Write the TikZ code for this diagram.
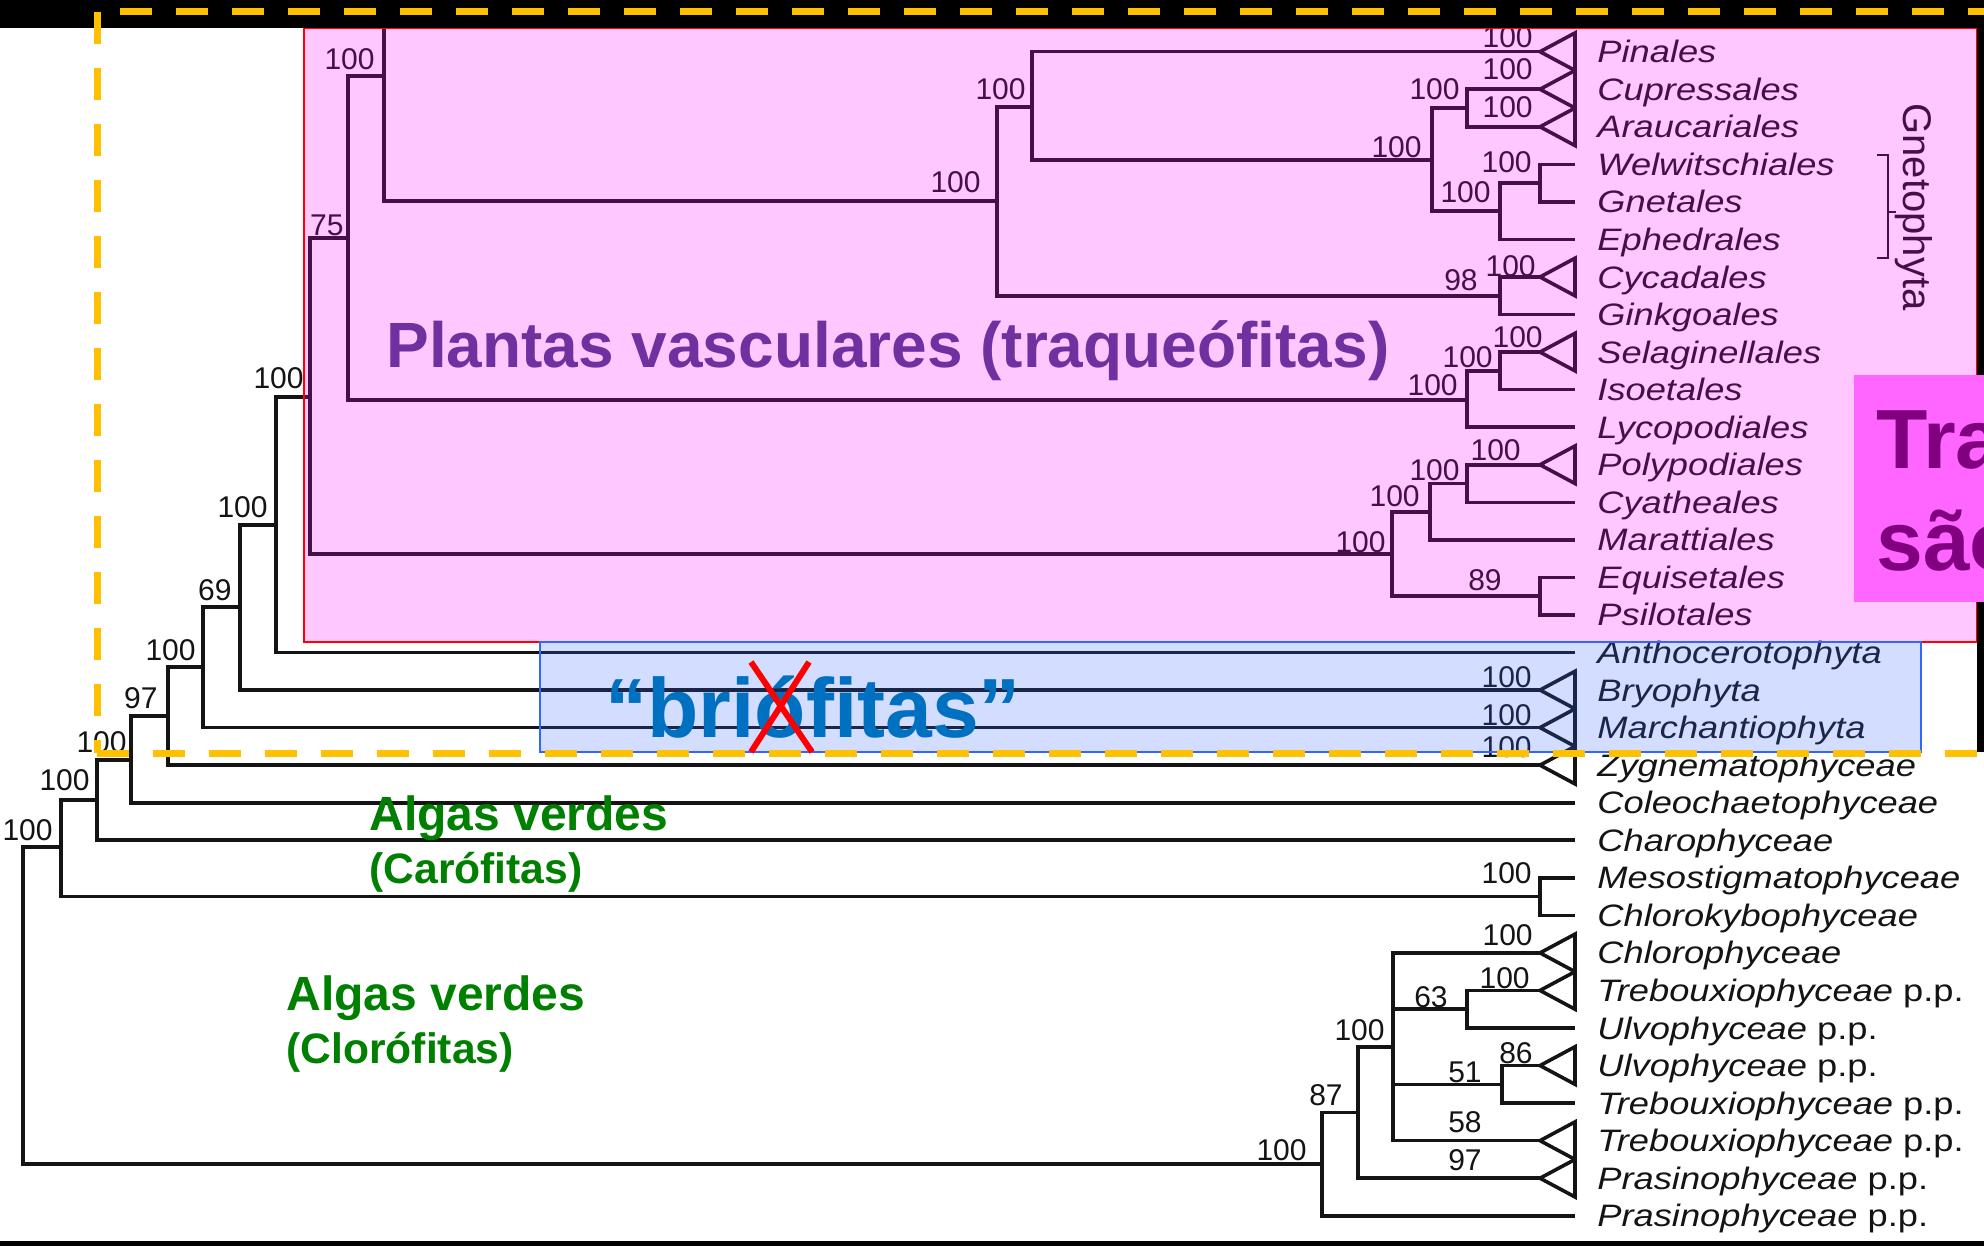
\documentclass[tikz,border=0pt]{standalone}
\usepackage{fontspec}
\setmainfont{Liberation Sans}
\setsansfont{Liberation Sans}
\newfontfamily\leaffont[FakeStretch=1.17]{Liberation Sans}
\definecolor{pinkov}{RGB}{255,0,255}
\definecolor{blueov}{RGB}{51,102,255}
\definecolor{plantpurple}{RGB}{112,48,160}
\definecolor{bryoblue}{RGB}{0,112,192}
\definecolor{algagreen}{RGB}{0,128,0}
\definecolor{yel}{RGB}{255,192,0}
\definecolor{magbox}{RGB}{255,102,255}
\definecolor{magtext}{RGB}{128,0,128}
\definecolor{treeink}{RGB}{20,20,20}
\begin{document}
\begin{tikzpicture}[x=0.5pt,y=-0.5pt,
  br/.style={line width=1.8pt, draw=treeink, line join=miter},
  leaf/.style={anchor=base west, inner sep=0pt, text=treeink, font=\leaffont\fontsize{15.5}{16}\selectfont\itshape},
  bs/.style={anchor=base east, inner sep=0pt, text=treeink, font=\fontsize{15}{15}\selectfont},
  yd/.style={draw=yel, line width=3.5pt, dash pattern=on 16pt off 12pt},
  bigtxt/.style={anchor=base west, inner sep=0pt, font=\bfseries\fontsize{32}{32}\selectfont},
  grtxt/.style={anchor=base west, inner sep=0pt, text=algagreen, font=\bfseries\fontsize{24}{24}\selectfont},
  grsub/.style={anchor=base west, inner sep=0pt, text=algagreen, font=\bfseries\fontsize{21.3}{21.3}\selectfont}
]
\useasboundingbox (0,0) rectangle (1984,1246);
\fill[white] (0,0) rectangle (1984,1246);

% ---------- leaves ----------
\foreach \i/\tri/\lab in {
  1/1/Pinales, 2/1/Cupressales, 3/1/Araucariales, 4/0/Welwitschiales,
  5/0/Gnetales, 6/0/Ephedrales, 7/1/Cycadales, 8/0/Ginkgoales,
  9/1/Selaginellales, 10/0/Isoetales, 11/0/Lycopodiales, 12/1/Polypodiales,
  13/0/Cyatheales, 14/0/Marattiales, 15/0/Equisetales, 16/0/Psilotales,
  17/0/Anthocerotophyta, 18/1/Bryophyta, 19/1/Marchantiophyta, 20/1/Zygnematophyceae,
  21/0/Coleochaetophyceae, 22/0/Charophyceae, 23/0/Mesostigmatophyceae, 24/0/Chlorokybophyceae,
  25/1/Chlorophyceae, 26/1/{Trebouxiophyceae \textup{p.p.}}, 27/0/{Ulvophyceae \textup{p.p.}},
  28/1/{Ulvophyceae \textup{p.p.}}, 29/0/{Trebouxiophyceae \textup{p.p.}},
  30/1/{Trebouxiophyceae \textup{p.p.}}, 31/1/{Prasinophyceae \textup{p.p.}},
  32/0/{Prasinophyceae \textup{p.p.}}} {
  \pgfmathsetmacro\yy{51.7+(\i-1)*37.55}
  \ifnum\tri=1
    \coordinate (t\i) at (1540,\yy);
  \else
    \coordinate (t\i) at (1575,\yy);
  \fi
  \node[leaf] (lab\i) at (1597,\yy+11) {\lab};
}

% ---------- internal nodes ----------
\coordinate (X) at (23,1005);
\coordinate (W) at (61,847);
\coordinate (V) at (97,800);
\coordinate (U) at (131,760);
\coordinate (T) at (168,716);
\coordinate (S) at (203,667);
\coordinate (R) at (240,607);
\coordinate (Q) at (276,525);
\coordinate (P) at (310,397);
\coordinate (O) at (348,238);
\coordinate (N) at (384,76);
\coordinate (angtop) at (384,0);
\coordinate (A) at (997,201);
\coordinate (B) at (1032,107);
\coordinate (C) at (1432,160);
\coordinate (D) at (1467,108);
\coordinate (E) at (1500,211);
\coordinate (F) at (1540,183);
\coordinate (G) at (1500,296);
\coordinate (I) at (1467,400);
\coordinate (H) at (1500,371);
\coordinate (L) at (1392,554);
\coordinate (K) at (1430,512);
\coordinate (J) at (1467,483.5);
\coordinate (M) at (1540,596);
\coordinate (DD) at (1540,896.6);
\coordinate (Y) at (1322,1164);
\coordinate (Z) at (1358,1112.6);
\coordinate (AA) at (1393,1047);
\coordinate (BB) at (1467,1009.2);
\coordinate (CC) at (1502,1084.3);

% ---------- branches ----------
\foreach \a/\b in {X/W, X/Y, W/V, W/DD, V/U, V/t22, U/T, U/t21, T/S, T/t20,
  S/R, S/t19, R/Q, R/t18, Q/P, Q/t17, P/O, P/L, O/N, O/I, N/A,
  A/B, A/G, B/t1, B/C, C/D, C/E, D/t2, D/t3, E/F, E/t6, F/t4, F/t5,
  G/t7, G/t8, I/H, I/t11, H/t9, H/t10, L/K, L/M, K/J, K/t14, J/t12, J/t13,
  M/t15, M/t16, DD/t23, DD/t24, Y/Z, Y/t32, Z/AA, Z/t31,
  AA/t25, AA/BB, AA/CC, AA/t30, BB/t26, BB/t27, CC/t28, CC/t29}
  \draw[br] (\a) |- (\b);
\draw[br] (N) -- (angtop);

% ---------- collapsed clades ----------
\foreach \i in {1,2,3,7,9,12,18,19,20,25,26,28,30,31}
  \draw[br] (t\i) -- ++(35,-18.78) -- ++(0,37.55) -- cycle;

% ---------- support values ----------
\foreach \n/\x/\y/\t in {
  sN/375/70/100, sO/344/235/75, sP/304/388/100, sQ/268/517/100, sR/232/600/69,
  sS/196/660/100, sT/158/708/97, sU/127/752/100, sV/90/790/100, sW/53/840/100,
  sA/981/193/100, sB/1026/100/100, sC/1422/158/100, sD/1460/100/100,
  s1/1533/48/100, s2/1533/80/100, s3/1533/118/100, sF/1532/173/100, sE/1491/203/100,
  sG/1478/290/98, s7/1536/277/100, s9/1543/347/100, sH/1493/367/100, sI/1458/395/100,
  s12/1521/460/100, sJ/1460/480/100, sK/1420/506/100, sL/1386/552/100, sM/1502/590/89,
  s18/1532/687/100, s19/1532/725/100, s20/1532/757/100, sDD/1532/883/100,
  s25/1533/945/100, s26/1530/988/100, sBB/1448/1007/63, sAA/1385/1040/100,
  s28/1533/1063/86, sCC/1482/1082/51, s30/1482/1132/58, s31/1482/1170/97,
  sZ/1343/1105/87, sY/1307/1160/100}
  \node[bs] (\n) at (\x,\y) {\t};

% ---------- Gnetophyta bracket ----------
\draw[line width=1.2pt, draw=treeink] (1877,155) -- (1888,155) -- (1888,258) -- (1877,258);
\draw[line width=1.2pt, draw=treeink] (1888,212) -- (1896,212);
\node[rotate=-90, inner sep=0pt, text=treeink, font=\fontsize{20}{20}\selectfont] (gneto) at (1914,207) {Gnetophyta};

% ---------- coloured overlays ----------
\fill[pinkov, fill opacity=0.22] (304,28) rectangle (1977,642);
\draw[red, line width=1pt] (304,28) rectangle (1977,642);
\fill[blueov, fill opacity=0.22] (540,642) rectangle (1921,752);
\draw[blueov, line width=0.8pt] (540,642) rectangle (1921,752);

% ---------- group labels ----------
\node[bigtxt, text=plantpurple] (trach) at (386,367) {Plantas vasculares (traqueófitas)};
\node[anchor=base west, inner sep=0pt, text=bryoblue, font=\bfseries\fontsize{42}{42}\selectfont] (bryo) at (605,737) {“briófitas”};
\draw[red, line width=3pt] (751,662) -- (812,752);
\draw[red, line width=3pt] (809,662) -- (751,752);
\node[grtxt] (charo1) at (369,830) {Algas verdes};
\node[grsub] (charo2) at (369,883) {(Carófitas)};
\node[grtxt] (chloro1) at (286,1010) {Algas verdes};
\node[grsub] (chloro2) at (286,1063) {(Clorófitas)};

% ---------- slide frame ----------
\fill[black] (0,0) rectangle (1984,28);
\fill[black] (1977,0) rectangle (1984,752);
\fill[black] (0,1241) rectangle (1984,1246);

% ---------- magenta call-out ----------
\fill[magbox] (1854,375) rectangle (1984,602);
\begin{scope}
  \clip (1854,375) rectangle (1984,602);
  \node[anchor=base west, inner sep=0pt, text=magtext, font=\bfseries\fontsize{42}{42}\selectfont] (tra) at (1876,468) {Tra};
  \node[anchor=base west, inner sep=0pt, text=magtext, font=\bfseries\fontsize{42}{42}\selectfont] (sao) at (1876,570) {são};
\end{scope}

% ---------- yellow dashed frame ----------
\draw[yd, dash phase=16.5pt] (97,12) -- (1984,12);
\draw[yd] (97,12) -- (97,753);
\draw[yd] (97,753) -- (1984,753);
\end{tikzpicture}
\end{document}
